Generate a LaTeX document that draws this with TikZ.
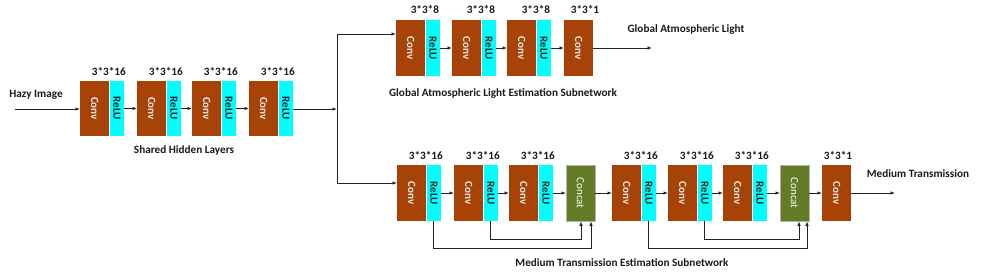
\documentclass[tikz,border=0pt]{standalone}
\usepackage{fontspec}
\setmainfont{Carlito}
\usetikzlibrary{arrows.meta}
\definecolor{convc}{HTML}{A84308}
\definecolor{reluc}{HTML}{00FFFF}
\definecolor{catc}{HTML}{637A26}
\definecolor{linec}{HTML}{222222}
\tikzset{
  convbox/.style={fill=convc, draw=none, minimum width=29pt, minimum height=55pt, inner sep=0pt, anchor=west,
    font=\bfseries\fontsize{11}{12}\selectfont, text=white!92!black},
  relubox/.style={fill=reluc, draw=none, minimum width=14.5pt, minimum height=55pt, inner sep=0pt, anchor=west,
    font=\bfseries\fontsize{11}{12}\selectfont, text=black!85},
  catbox/.style={fill=catc, draw=gray!60, line width=0.5pt, minimum width=28.5pt, minimum height=55pt, inner sep=0pt, anchor=west,
    font=\fontsize{11}{12}\selectfont, text=white},
  lbl/.style={font=\bfseries\fontsize{11.2}{13}\selectfont, inner sep=0pt, text=black!90},
  arr/.style={draw=linec, line width=0.8pt, -{Latex[length=4.5pt,width=3.5pt]}},
  ln/.style={draw=linec, line width=0.8pt},
}
\begin{document}
\begin{tikzpicture}[x=1pt,y=-1pt]
\useasboundingbox (0,0) rectangle (981,273);
% shared hidden layers
\foreach \i/\x in {1/80,2/137,3/192,4/249}{
  \node[convbox] (sc\i) at (\x,108.5) {\rotatebox{-90}{Conv}};
  \node[relubox] (sr\i) at (sc\i.east) {\rotatebox{-90}{ReLU}};
  \node[lbl] (sl\i) at ([xshift=-0.5pt]sc\i.east |- 0,72) {3*3*16};
}
\node[lbl] (hazy) at (36,95) {Hazy Image};
\node[lbl] (shl) at (184,150) {Shared Hidden Layers};
\coordinate (in) at (15,109);
\draw[arr] (in) -- (sc1.west |- in);
\draw[arr] (sr1.east) -- (sc2.west);
\draw[arr] (sr2.east) -- (sc3.west);
\draw[arr] (sr3.east) -- (sc4.west);
\coordinate (j) at (337,109);
\coordinate (jt) at (337,34);
\coordinate (jb) at (337,183);
\draw[arr] (sr4.east |- j) -- (j);
\draw[ln] (jt) -- (jb);

% global atmospheric light branch
\foreach \i/\x in {1/396,2/452,3/507}{
  \node[convbox, minimum height=56pt] (tc\i) at (\x,48) {\rotatebox{-90}{Conv}};
  \node[relubox, minimum height=56pt] (tr\i) at (tc\i.east) {\rotatebox{-90}{ReLU}};
  \node[lbl] (tl\i) at ([xshift=-0.5pt]tc\i.east |- 0,10) {3*3*8};
}
\node[convbox, minimum height=56pt] (tc4) at (564,48) {\rotatebox{-90}{Conv}};
\node[lbl] (tl4) at (585,10) {3*3*1};
\draw[arr] (jt) -- (tc1.west |- jt);
\draw[arr] (tr1.east) -- (tc2.west);
\draw[arr] (tr2.east) -- (tc3.west);
\draw[arr] (tr3.east) -- (tc4.west);
\coordinate (gout) at (652,48);
\draw[arr] (tc4.east) -- (gout);
\node[lbl] (gal) at (686,30) {Global Atmospheric Light};
\node[lbl] (gsub) at (503,94) {Global Atmospheric Light Estimation Subnetwork};

% medium transmission branch
\foreach \i/\x in {1/397,2/454,3/509,4/612,5/668,6/723}{
  \node[convbox, minimum height=56pt] (bc\i) at (\x,193) {\rotatebox{-90}{Conv}};
  \node[relubox, minimum height=56pt] (br\i) at (bc\i.east) {\rotatebox{-90}{ReLU}};
  \node[lbl] (bl\i) at ([xshift=-0.5pt]bc\i.east |- 0,156) {3*3*16};
}
\node[catbox, minimum height=56pt] (cc1) at (566,193) {\rotatebox{-90}{Concat}};
\node[catbox, minimum height=56pt] (cc2) at (780,193) {\rotatebox{-90}{Concat}};
\node[convbox, minimum height=56pt] (bc7) at (822,193) {\rotatebox{-90}{Conv}};
\node[lbl] (bl7) at (838,156) {3*3*1};
\draw[arr] (jb) -- (bc1.west |- jb);
\draw[arr] (br1.east) -- (bc2.west);
\draw[arr] (br2.east) -- (bc3.west);
\draw[arr] (br3.east) -- (cc1.west);
\draw[arr] (cc1.east) -- (bc4.west);
\draw[arr] (br4.east) -- (bc5.west);
\draw[arr] (br5.east) -- (bc6.west);
\draw[arr] (br6.east) -- (cc2.west);
\draw[arr] (cc2.east) -- (bc7.west);
\coordinate (mout) at (895,193);
\draw[arr] (bc7.east) -- (mout);
\node[lbl] (mt) at (918,174) {Medium Transmission};
\node[lbl] (msub) at (622,263) {Medium Transmission Estimation Subnetwork};

% skip connections
\draw[arr] (br1.south) |- (591,248) -- (cc1.south -| 591,0);
\draw[arr] (br2.south) |- (581,239) -- (cc1.south -| 581,0);
\draw[arr] (br4.south) |- (807,248) -- (cc2.south -| 807,0);
\draw[arr] (br5.south) |- (799,239) -- (cc2.south -| 799,0);
\end{tikzpicture}
\end{document}
